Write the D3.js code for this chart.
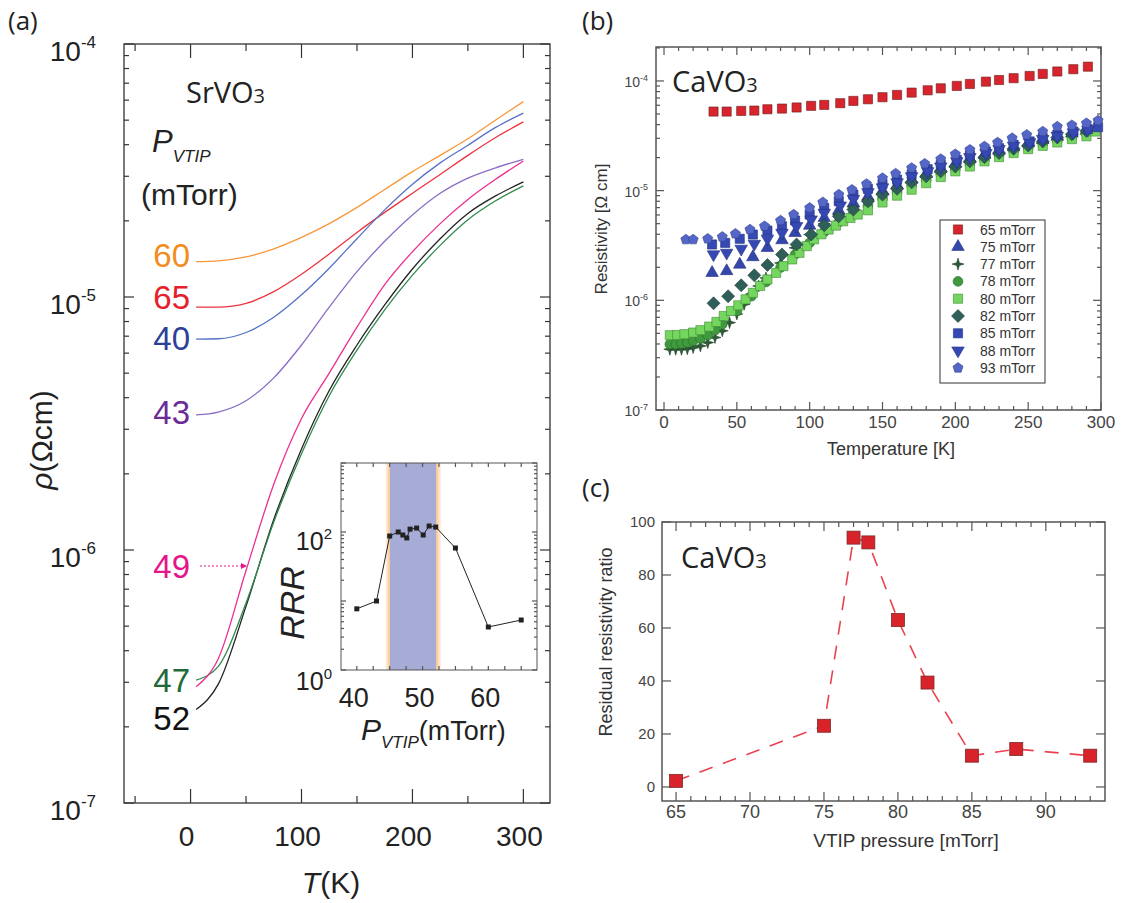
<!DOCTYPE html>
<html>
<head>
<meta charset="utf-8">
<script src="https://cdn.jsdelivr.net/npm/d3@7"></script>
<style>
  body { margin: 0; background: #fff; }
  svg { display: block; }
  text { font-family: "Liberation Sans", Arial, sans-serif; }
  .open { font-family: "Open Sans", "Liberation Sans", sans-serif; }
</style>
</head>
<body>
<script>
// ---------- (a) SrVO3 rho(T) for each VTIP pressure ----------
var srTemps = [5, 25, 50, 75, 100, 125, 150, 175, 200, 225, 250, 275, 300];
var srR60 = [1.38e-5, 1.39e-5, 1.44e-5, 1.55e-5, 1.72e-5, 1.95e-5, 2.26e-5, 2.66e-5, 3.13e-5, 3.63e-5, 4.22e-5, 5.01e-5, 5.92e-5];
var srR65 = [9.12e-6, 9.12e-6, 9.44e-6, 1.05e-5, 1.23e-5, 1.48e-5, 1.8e-5, 2.16e-5, 2.57e-5, 3.05e-5, 3.63e-5, 4.27e-5, 4.92e-5];
var srR40 = [6.82e-6, 6.84e-6, 7.24e-6, 8.32e-6, 1.02e-5, 1.3e-5, 1.7e-5, 2.21e-5, 2.79e-5, 3.39e-5, 3.98e-5, 4.68e-5, 5.33e-5];
var srR43 = [3.42e-6, 3.51e-6, 3.89e-6, 4.79e-6, 6.46e-6, 9.12e-6, 1.26e-5, 1.66e-5, 2.11e-5, 2.57e-5, 2.95e-5, 3.24e-5, 3.5e-5];
var srR49 = [2.88e-7, 3.72e-7, 8.3e-7, 1.82e-6, 3.31e-6, 5.0e-6, 7.6e-6, 1.12e-5, 1.51e-5, 1.95e-5, 2.43e-5, 2.92e-5, 3.45e-5];
var srR47 = [3.06e-7, 3.47e-7, 6.17e-7, 1.29e-6, 2.4e-6, 4.07e-6, 6.17e-6, 8.9e-6, 1.22e-5, 1.6e-5, 2.02e-5, 2.4e-5, 2.75e-5];
var srR52 = [2.34e-7, 2.95e-7, 6.0e-7, 1.32e-6, 2.51e-6, 4.27e-6, 6.46e-6, 9.3e-6, 1.29e-5, 1.7e-5, 2.14e-5, 2.51e-5, 2.85e-5];

// inset: residual resistivity ratio vs P_VTIP
var insetP = [40, 43, 45, 46.3, 47, 47.6, 48.1, 49.1, 50.1, 51, 52, 55, 60, 65];
var insetRRR = [7.7, 10, 87.5, 100, 90.5, 82, 110, 114, 90.5, 122, 118, 58.6, 4.2, 5.3];

// ---------- (b) CaVO3 resistivity vs temperature ----------
var tB65 = [34, 43, 53, 62, 71, 81, 91, 101, 110, 121, 130, 140, 150, 160, 170, 181, 190, 201, 210, 221, 230, 240, 251, 260, 270, 281, 291];
var rB65 = [5.26e-5, 5.26e-5, 5.33e-5, 5.37e-5, 5.52e-5, 5.6e-5, 5.73e-5, 5.93e-5, 6.05e-5, 6.27e-5, 6.58e-5, 6.81e-5, 7.11e-5, 7.46e-5, 7.83e-5, 8.22e-5, 8.57e-5, 9.01e-5, 9.39e-5, 9.86e-5, 1.02e-4, 1.06e-4, 1.11e-4, 1.16e-4, 1.22e-4, 1.28e-4, 1.35e-4];
var tB75 = [33, 43, 52, 61, 71, 81, 90, 100, 110, 120, 130, 140, 150, 160, 170, 180, 190, 200, 210, 220, 230, 240, 250, 260, 270, 280, 290];
var rB75 = [1.78e-6, 1.85e-6, 2.12e-6, 2.48e-6, 3.01e-6, 3.54e-6, 4.12e-6, 4.8e-6, 5.64e-6, 6.6e-6, 7.7e-6, 8.8e-6, 1.0e-5, 1.12e-5, 1.26e-5, 1.42e-5, 1.58e-5, 1.76e-5, 1.94e-5, 2.12e-5, 2.32e-5, 2.49e-5, 2.7e-5, 2.9e-5, 3.11e-5, 3.33e-5, 3.52e-5];
var tB77 = [4, 8, 12, 16, 20, 25, 30, 35, 40, 45, 50, 55, 60, 65, 70, 80, 90, 100, 110, 120, 130, 140, 150, 160, 170, 180, 190, 200, 210, 220, 230, 240, 250, 260, 270, 280, 290];
var rB77 = [3.58e-7, 3.58e-7, 3.58e-7, 3.62e-7, 3.71e-7, 3.84e-7, 4.12e-7, 4.58e-7, 5.27e-7, 6.26e-7, 7.5e-7, 9.2e-7, 1.14e-6, 1.35e-6, 1.6e-6, 2.19e-6, 3.01e-6, 3.98e-6, 5.0e-6, 6.05e-6, 7.1e-6, 8.3e-6, 9.4e-6, 1.06e-5, 1.19e-5, 1.33e-5, 1.5e-5, 1.65e-5, 1.81e-5, 2.0e-5, 2.18e-5, 2.36e-5, 2.53e-5, 2.72e-5, 2.92e-5, 3.13e-5, 3.35e-5];
var tB78 = [4, 8, 12, 16, 20, 25, 30, 35, 40, 50, 60, 70, 80, 90, 100, 110, 120, 130, 140, 150, 160, 170, 180, 190, 200, 210, 220, 230, 240, 250, 260, 270, 280, 290];
var rB78 = [3.98e-7, 3.98e-7, 4.04e-7, 4.12e-7, 4.27e-7, 4.49e-7, 4.81e-7, 5.34e-7, 6.05e-7, 8.0e-7, 1.09e-6, 1.47e-6, 1.99e-6, 2.62e-6, 3.34e-6, 4.2e-6, 5.15e-6, 6.2e-6, 7.3e-6, 8.45e-6, 9.7e-6, 1.11e-5, 1.26e-5, 1.42e-5, 1.57e-5, 1.74e-5, 1.91e-5, 2.1e-5, 2.28e-5, 2.46e-5, 2.66e-5, 2.85e-5, 3.05e-5, 3.27e-5];
var tB80 = [4, 9, 14, 20, 25, 31, 36, 41, 46, 51, 56, 61, 66, 71, 77, 82, 88, 93, 98, 103, 108, 113, 118, 123, 128, 133, 140, 150, 160, 170, 180, 190, 200, 210, 220, 230, 240, 250, 260, 270, 280, 290, 296];
var rB80 = [4.81e-7, 4.83e-7, 4.91e-7, 5.08e-7, 5.34e-7, 5.76e-7, 6.35e-7, 7.2e-7, 8.0e-7, 9.0e-7, 1.02e-6, 1.17e-6, 1.35e-6, 1.55e-6, 1.78e-6, 2.05e-6, 2.36e-6, 2.71e-6, 3.12e-6, 3.6e-6, 4.0e-6, 4.42e-6, 4.8e-6, 5.26e-6, 5.64e-6, 6.05e-6, 6.62e-6, 7.8e-6, 9.0e-6, 1.02e-5, 1.17e-5, 1.33e-5, 1.5e-5, 1.66e-5, 1.85e-5, 2.02e-5, 2.2e-5, 2.39e-5, 2.56e-5, 2.75e-5, 2.95e-5, 3.13e-5, 3.46e-5];
var tB82 = [34, 44, 53, 62, 71, 81, 91, 101, 110, 120, 130, 140, 150, 160, 170, 180, 190, 200, 210, 220, 230, 240, 250, 260, 270, 280, 290];
var rB82 = [9.4e-7, 1.09e-6, 1.37e-6, 1.69e-6, 2.1e-6, 2.62e-6, 3.23e-6, 3.98e-6, 4.84e-6, 5.84e-6, 6.72e-6, 8.0e-6, 9.2e-6, 1.04e-5, 1.19e-5, 1.35e-5, 1.5e-5, 1.66e-5, 1.85e-5, 2.02e-5, 2.2e-5, 2.41e-5, 2.58e-5, 2.81e-5, 3.05e-5, 3.27e-5, 3.51e-5];
var tB85 = [33, 42, 52, 61, 71, 81, 90, 100, 110, 120, 130, 140, 150, 160, 170, 181, 190, 201, 210, 221, 230, 240, 251, 260, 270, 281, 291, 298];
var rB85 = [3.23e-6, 3.34e-6, 3.64e-6, 3.98e-6, 4.33e-6, 4.74e-6, 5.34e-6, 6.05e-6, 6.96e-6, 8.0e-6, 9.2e-6, 1.04e-5, 1.15e-5, 1.26e-5, 1.4e-5, 1.57e-5, 1.72e-5, 1.91e-5, 2.1e-5, 2.28e-5, 2.44e-5, 2.62e-5, 2.81e-5, 3.01e-5, 3.23e-5, 3.46e-5, 3.64e-5, 3.79e-5];
var tB88 = [34, 43, 53, 62, 71, 81, 91, 101, 110, 121, 130, 140, 150, 160, 170, 181, 190, 201, 210, 221, 230, 240, 251, 260, 270, 281, 291];
var rB88 = [2.62e-6, 2.71e-6, 2.95e-6, 3.27e-6, 3.64e-6, 4.12e-6, 4.74e-6, 5.45e-6, 6.27e-6, 7.31e-6, 8.4e-6, 9.66e-6, 1.07e-5, 1.19e-5, 1.35e-5, 1.5e-5, 1.66e-5, 1.85e-5, 2.02e-5, 2.2e-5, 2.39e-5, 2.56e-5, 2.75e-5, 2.95e-5, 3.16e-5, 3.39e-5, 3.59e-5];
var tB93 = [15, 20, 30, 40, 49, 59, 69, 80, 89, 100, 109, 120, 129, 139, 150, 159, 170, 179, 190, 200, 210, 220, 229, 239, 249, 260, 270, 280, 290, 298];
var rB93 = [3.58e-6, 3.58e-6, 3.64e-6, 3.79e-6, 4.04e-6, 4.42e-6, 4.74e-6, 5.34e-6, 6.05e-6, 6.96e-6, 7.83e-6, 9.2e-6, 1.02e-5, 1.15e-5, 1.3e-5, 1.43e-5, 1.61e-5, 1.76e-5, 1.94e-5, 2.15e-5, 2.36e-5, 2.53e-5, 2.75e-5, 3.01e-5, 3.23e-5, 3.46e-5, 3.84e-5, 3.95e-5, 4.12e-5, 4.36e-5];

// ---------- (c) residual resistivity ratio of CaVO3 ----------
var cPressure = [65, 75, 77, 78, 80, 82, 85, 88, 93];
var cRRR = [2.3, 23.1, 94.1, 92.3, 63, 39.4, 11.8, 14.3, 11.8];

var svg = d3.select("body").append("svg").attr("width", 1124).attr("height", 903);
svg.append("rect").attr("width", 1124).attr("height", 903).attr("fill", "#fff");

//draws inward tick marks along one side of a frame
function drawTicks(g, vals, scale, side, pos, len, color) {
  g.selectAll(null).data(vals).enter().append("line")
    .attr("x1", function(v) { return side == "left" || side == "right" ? pos : scale(v); })
    .attr("x2", function(v) { return side == "left" ? pos + len : side == "right" ? pos - len : scale(v); })
    .attr("y1", function(v) { return side == "bottom" || side == "top" ? pos : scale(v); })
    .attr("y2", function(v) { return side == "bottom" ? pos - len : side == "top" ? pos + len : scale(v); })
    .attr("stroke", color).attr("stroke-width", 1.2);
}

//splits a log scale's ticks into decades and the 2..9 in between
function logTicks(scale) {
  var all = scale.ticks();
  var major = all.filter(function(v) { return Math.abs(Math.log10(v) - Math.round(Math.log10(v))) < 1e-6; });
  var minor = all.filter(function(v) { return major.indexOf(v) < 0; });
  return { major: major, minor: minor };
}

//"10" with superscript exponent
function powLabel(g, x, y, exp, size, supSize, color) {
  var t = g.append("text").attr("x", x).attr("y", y).attr("text-anchor", "end")
    .attr("font-size", size).attr("fill", color);
  t.append("tspan").text("10");
  t.append("tspan").attr("dy", -size * 0.45).attr("font-size", supSize).text(exp);
}

// ================= panel (a) =================
var gA = svg.append("g");
var xA = d3.scaleLinear().domain([-60, 324]).range([124, 550]);
var yA = d3.scaleLog().domain([1e-7, 1e-4]).range([803, 44]);

var ltA = logTicks(yA);
drawTicks(gA, ltA.major, yA, "left", 124, 10, "#333");
drawTicks(gA, ltA.minor, yA, "left", 124, 5, "#333");
drawTicks(gA, ltA.major, yA, "right", 550, 10, "#333");
drawTicks(gA, ltA.minor, yA, "right", 550, 5, "#333");
var xMajA = [0, 100, 200, 300], xMinA = [-50, 50, 150, 250];
drawTicks(gA, xMajA, xA, "bottom", 803, 14, "#333");
drawTicks(gA, xMinA, xA, "bottom", 803, 7, "#333");
drawTicks(gA, xMajA, xA, "top", 44, 14, "#333");
drawTicks(gA, xMinA, xA, "top", 44, 7, "#333");
gA.append("rect").attr("x", 124).attr("y", 44).attr("width", 426).attr("height", 759)
  .attr("fill", "none").attr("stroke", "#333").attr("stroke-width", 1.3);

ltA.major.forEach(function(v) {
  powLabel(gA, 96, yA(v) + 17, String(Math.round(Math.log10(v))), 28, 17, "#222");
});
xMajA.forEach(function(v) {
  gA.append("text").attr("x", xA(v) - 4).attr("y", 846).attr("text-anchor", "middle")
    .attr("font-size", 28).attr("fill", "#222").text(v);
});
var tl = gA.append("text").attr("x", 331).attr("y", 893).attr("text-anchor", "middle")
  .attr("font-size", 30).attr("fill", "#222");
tl.append("tspan").attr("font-style", "italic").text("T");
tl.append("tspan").text("(K)");
var yl = gA.append("text").attr("transform", "translate(52,440) rotate(-90)")
  .attr("text-anchor", "middle").attr("font-size", 30).attr("fill", "#222");
yl.append("tspan").attr("font-style", "italic").text("ρ");
yl.append("tspan").text("(Ωcm)");

var curvesA = [
  { p: 60, r: srR60, line: "#f7983a", lab: "#f28c1e", ly: 267 },
  { p: 65, r: srR65, line: "#ec3440", lab: "#e5202b", ly: 309 },
  { p: 40, r: srR40, line: "#5572c8", lab: "#2d3f98", ly: 350 },
  { p: 43, r: srR43, line: "#8a6cc8", lab: "#6b2c98", ly: 424 },
  { p: 52, r: srR52, line: "#222", lab: "#111", ly: 730 },
  { p: 47, r: srR47, line: "#2f8a4c", lab: "#1e6a38", ly: 692 },
  { p: 49, r: srR49, line: "#ec2f92", lab: "#e5168a", ly: 578 }
];
var lineA = d3.line().curve(d3.curveMonotoneX)
  .x(function(d) { return xA(d[0]); }).y(function(d) { return yA(d[1]); });
curvesA.forEach(function(c) {
  gA.append("path").attr("d", lineA(d3.zip(srTemps, c.r)))
    .attr("fill", "none").attr("stroke", c.line).attr("stroke-width", 1.3);
  gA.append("text").attr("x", 190).attr("y", c.ly).attr("text-anchor", "end")
    .attr("font-size", 33).attr("fill", c.lab).text(c.p);
});
// dotted pointer for the 49 label
gA.append("line").attr("x1", 200).attr("x2", 242).attr("y1", 566).attr("y2", 566)
  .attr("stroke", "#e5168a").attr("stroke-width", 1.2).attr("stroke-dasharray", "2,2");
gA.append("path").attr("d", "M241,563L247,566L241,569Z").attr("fill", "#e5168a");

var sr = gA.append("text").attr("class", "open").attr("x", 186).attr("y", 103)
  .attr("font-size", 29).attr("fill", "#222");
sr.append("tspan").text("SrVO");
sr.append("tspan").attr("font-size", 20).text("3");
var pv = gA.append("text").attr("x", 152).attr("y", 152).attr("font-size", 31).attr("fill", "#222");
pv.append("tspan").attr("font-style", "italic").text("P");
pv.append("tspan").attr("font-style", "italic").attr("font-size", 17).attr("dy", 10).text("VTIP");
gA.append("text").attr("x", 141).attr("y", 205).attr("font-size", 30).attr("fill", "#222").text("(mTorr)");
gA.append("text").attr("class", "open").attr("x", 8).attr("y", 30).attr("font-size", 26)
  .attr("fill", "#222").text("(a)");

// ---- inset ----
var defs = svg.append("defs");
var gl = defs.append("linearGradient").attr("id", "fadeL");
gl.append("stop").attr("offset", "0%").attr("stop-color", "#f9c48e").attr("stop-opacity", 0.2);
gl.append("stop").attr("offset", "100%").attr("stop-color", "#f9c48e").attr("stop-opacity", 1);
var gr = defs.append("linearGradient").attr("id", "fadeR");
gr.append("stop").attr("offset", "0%").attr("stop-color", "#f9c48e").attr("stop-opacity", 1);
gr.append("stop").attr("offset", "100%").attr("stop-color", "#f9c48e").attr("stop-opacity", 0.2);

var gI = svg.append("g");
var xI = d3.scaleLinear().domain([37.6, 67.4]).range([341, 537]);
var yI = d3.scaleLog().domain([1, 1000]).range([670, 463]);
gI.append("rect").attr("x", 341).attr("y", 463).attr("width", 196).attr("height", 207).attr("fill", "#fff");
gI.append("rect").attr("x", xI(44.4)).attr("y", 463).attr("width", xI(45.05) - xI(44.4)).attr("height", 207)
  .attr("fill", "url(#fadeL)");
gI.append("rect").attr("x", xI(52.05)).attr("y", 463).attr("width", xI(52.8) - xI(52.05)).attr("height", 207)
  .attr("fill", "url(#fadeR)");
gI.append("rect").attr("x", xI(45.05)).attr("y", 463).attr("width", xI(52.05) - xI(45.05)).attr("height", 207)
  .attr("fill", "#a6acd6");
var ltI = logTicks(yI);
drawTicks(gI, ltI.major, yI, "left", 341, 5, "#555");
drawTicks(gI, ltI.minor, yI, "left", 341, 3, "#555");
drawTicks(gI, ltI.major, yI, "right", 537, 5, "#555");
drawTicks(gI, ltI.minor, yI, "right", 537, 3, "#555");
var xTI = d3.range(40, 66, 2.5);
drawTicks(gI, xTI, xI, "bottom", 670, 4, "#555");
drawTicks(gI, xTI, xI, "top", 463, 4, "#555");
gI.append("rect").attr("x", 341).attr("y", 463).attr("width", 196).attr("height", 207)
  .attr("fill", "none").attr("stroke", "#555").attr("stroke-width", 1);
var lineI = d3.line().x(function(d) { return xI(d[0]); }).y(function(d) { return yI(d[1]); });
var insetPts = d3.zip(insetP, insetRRR);
gI.append("path").attr("d", lineI(insetPts)).attr("fill", "none").attr("stroke", "#222").attr("stroke-width", 1);
gI.selectAll(null).data(insetPts).enter().append("rect")
  .attr("x", function(d) { return xI(d[0]) - 2.5; }).attr("y", function(d) { return yI(d[1]) - 2.5; })
  .attr("width", 5).attr("height", 5).attr("fill", "#222");
powLabel(gI, 332, yI(100) + 18, "2", 25, 15, "#222");
powLabel(gI, 332, yI(1) + 20, "0", 25, 15, "#222");
[40, 50, 60].forEach(function(v) {
  gI.append("text").attr("x", xI(v) - 3).attr("y", 707).attr("text-anchor", "middle")
    .attr("font-size", 27).attr("fill", "#222").text(v);
});
gI.append("text").attr("transform", "translate(304,603) rotate(-90)").attr("text-anchor", "middle")
  .attr("font-size", 34).attr("font-style", "italic").attr("fill", "#222").text("RRR");
var ipl = gI.append("text").attr("x", 361).attr("y", 740).attr("font-size", 30).attr("fill", "#222");
ipl.append("tspan").attr("font-style", "italic").text("P");
ipl.append("tspan").attr("font-style", "italic").attr("font-size", 17).attr("dy", 8).text("VTIP");
ipl.append("tspan").attr("font-size", 27).attr("dy", -8).text("(mTorr)");

// ================= panel (b) =================
var gB = svg.append("g");
var xB = d3.scaleLinear().domain([-5.5, 300]).range([656, 1101]);
var yB = d3.scaleLog().domain([1e-7, 2.04e-4]).range([410, 47]);
var ltB = logTicks(yB);
drawTicks(gB, ltB.major, yB, "left", 656, 8, "#555");
drawTicks(gB, ltB.minor, yB, "left", 656, 4, "#555");
drawTicks(gB, ltB.major, yB, "right", 1101, 8, "#555");
drawTicks(gB, ltB.minor, yB, "right", 1101, 4, "#555");
var xMajB = d3.range(0, 301, 50), xMinB = d3.range(10, 300, 10).filter(function(v) { return v % 50; });
drawTicks(gB, xMajB, xB, "bottom", 410, 8, "#555");
drawTicks(gB, xMinB, xB, "bottom", 410, 4, "#555");
drawTicks(gB, xMajB, xB, "top", 47, 8, "#555");
drawTicks(gB, xMinB, xB, "top", 47, 4, "#555");
gB.append("rect").attr("x", 656).attr("y", 47).attr("width", 445).attr("height", 363)
  .attr("fill", "none").attr("stroke", "#555").attr("stroke-width", 1.5);
ltB.major.forEach(function(v) {
  powLabel(gB, 648, yB(v) + 6, String(Math.round(Math.log10(v))), 14, 9, "#444");
});
xMajB.forEach(function(v) {
  gB.append("text").attr("x", xB(v)).attr("y", 428).attr("text-anchor", "middle")
    .attr("font-size", 17).attr("fill", "#444").text(v);
});
gB.append("text").attr("x", 891).attr("y", 455).attr("text-anchor", "middle")
  .attr("font-size", 18).attr("fill", "#333").text("Temperature [K]");
gB.append("text").attr("transform", "translate(607,229) rotate(-90)").attr("text-anchor", "middle")
  .attr("font-size", 17).attr("fill", "#333").text("Resistivity [Ω cm]");
var cb = gB.append("text").attr("class", "open").attr("x", 672).attr("y", 92)
  .attr("font-size", 29).attr("fill", "#222");
cb.append("tspan").text("CaVO");
cb.append("tspan").attr("font-size", 20).text("3");
gB.append("text").attr("class", "open").attr("x", 582).attr("y", 30).attr("font-size", 26)
  .attr("fill", "#222").text("(b)");

//marker shapes used in (b)
function polygonPath(n, r, rot) {
  var pts = d3.range(n).map(function(i) {
    var a = rot + i * 2 * Math.PI / n;
    return [r * Math.sin(a), -r * Math.cos(a)];
  });
  return "M" + pts.join("L") + "Z";
}
function starPath(r) {
  var pts = d3.range(8).map(function(i) {
    var a = i * Math.PI / 4, rr = i % 2 ? r * 0.32 : r;
    return [rr * Math.sin(a), -rr * Math.cos(a)];
  });
  return "M" + pts.join("L") + "Z";
}
var shapes = {
  square: d3.symbol().type(d3.symbolSquare).size(84)(),
  triUp: d3.symbol().type(d3.symbolTriangle).size(68)(),
  triDown: d3.symbol().type(d3.symbolTriangle).size(68)(),
  star: starPath(6),
  circle: d3.symbol().type(d3.symbolCircle).size(75)(),
  diamond: polygonPath(4, 6.5, 0),
  pentagon: polygonPath(5, 5.3, 0)
};

var seriesB = [
  { label: "65 mTorr", t: tB65, r: rB65, shape: "square", fill: "#d8252d", stroke: "#6a1c1c" },
  { label: "75 mTorr", t: tB75, r: rB75, shape: "triUp", fill: "#3447aa", stroke: "#27337a" },
  { label: "77 mTorr", t: tB77, r: rB77, shape: "star", fill: "#2d5b36", stroke: "#1f3f25" },
  { label: "78 mTorr", t: tB78, r: rB78, shape: "circle", fill: "#3e9a3c", stroke: "#286a28" },
  { label: "80 mTorr", t: tB80, r: rB80, shape: "square", fill: "#74d65e", stroke: "#3f8a35" },
  { label: "82 mTorr", t: tB82, r: rB82, shape: "diamond", fill: "#2f5f58", stroke: "#1d3d39" },
  { label: "85 mTorr", t: tB85, r: rB85, shape: "square", fill: "#3548b4", stroke: "#24327e" },
  { label: "88 mTorr", t: tB88, r: rB88, shape: "triDown", fill: "#3548b4", stroke: "#24327e" },
  { label: "93 mTorr", t: tB93, r: rB93, shape: "pentagon", fill: "#5467c8", stroke: "#34418a" }
];
function markerTransform(shape, x, y) {
  return "translate(" + x + "," + y + ")" + (shape == "triDown" ? " rotate(180)" : "");
}
seriesB.forEach(function(s) {
  gB.selectAll(null).data(d3.zip(s.t, s.r)).enter().append("path")
    .attr("d", shapes[s.shape])
    .attr("transform", function(d) { return markerTransform(s.shape, xB(d[0]), yB(d[1])); })
    .attr("fill", s.fill).attr("stroke", s.stroke).attr("stroke-width", 0.6);
});

// legend
var lg = gB.append("g");
lg.append("rect").attr("x", 940).attr("y", 220).attr("width", 105).attr("height", 163)
  .attr("fill", "#fff").attr("stroke", "#333").attr("stroke-width", 1);
seriesB.forEach(function(s, i) {
  var y = 229.5 + i * 17.3;
  lg.append("path").attr("d", shapes[s.shape]).attr("transform", markerTransform(s.shape, 958, y))
    .attr("fill", s.fill).attr("stroke", s.stroke).attr("stroke-width", 0.6);
  lg.append("text").attr("x", 980).attr("y", y + 5).attr("font-size", 14).attr("fill", "#333").text(s.label);
});

// ================= panel (c) =================
var gC = svg.append("g");
var xC = d3.scaleLinear().domain([64.05, 94]).range([662, 1105]);
var yC = d3.scaleLinear().domain([-5.3, 100]).range([801, 522]);
var xMajC = [65, 70, 75, 80, 85, 90];
var xMinC = d3.range(65, 94, 1).filter(function(v) { return v % 5; });
var yMajC = [0, 20, 40, 60, 80, 100];
drawTicks(gC, xMajC, xC, "bottom", 801, 9, "#555");
drawTicks(gC, xMinC, xC, "bottom", 801, 5, "#555");
drawTicks(gC, xMajC, xC, "top", 522, 9, "#555");
drawTicks(gC, xMinC, xC, "top", 522, 5, "#555");
drawTicks(gC, yMajC, yC, "left", 662, 9, "#555");
drawTicks(gC, yMajC, yC, "right", 1105, 9, "#555");
gC.append("rect").attr("x", 662).attr("y", 522).attr("width", 443).attr("height", 279)
  .attr("fill", "none").attr("stroke", "#555").attr("stroke-width", 1.5);
yMajC.forEach(function(v) {
  gC.append("text").attr("x", 655).attr("y", yC(v) + 5).attr("text-anchor", "end")
    .attr("font-size", 15).attr("fill", "#444").text(v);
});
xMajC.forEach(function(v) {
  gC.append("text").attr("x", xC(v)).attr("y", 818).attr("text-anchor", "middle")
    .attr("font-size", 18).attr("fill", "#444").text(v);
});
gC.append("text").attr("x", 906).attr("y", 847).attr("text-anchor", "middle")
  .attr("font-size", 19).attr("fill", "#333").text("VTIP pressure [mTorr]");
gC.append("text").attr("transform", "translate(612,642) rotate(-90)").attr("text-anchor", "middle")
  .attr("font-size", 18).attr("fill", "#333").text("Residual resistivity ratio");
var cc = gC.append("text").attr("class", "open").attr("x", 681).attr("y", 568)
  .attr("font-size", 29).attr("fill", "#222");
cc.append("tspan").text("CaVO");
cc.append("tspan").attr("font-size", 20).text("3");
gC.append("text").attr("class", "open").attr("x", 582).attr("y", 497).attr("font-size", 26)
  .attr("fill", "#222").text("(c)");

var cPts = d3.zip(cPressure, cRRR);
var lineC = d3.line().x(function(d) { return xC(d[0]); }).y(function(d) { return yC(d[1]); });
gC.append("path").attr("d", lineC(cPts)).attr("fill", "none").attr("stroke", "#ea4250")
  .attr("stroke-width", 1.6).attr("stroke-dasharray", "14,11");
gC.selectAll(null).data(cPts).enter().append("rect")
  .attr("x", function(d) { return xC(d[0]) - 6.5; }).attr("y", function(d) { return yC(d[1]) - 6.5; })
  .attr("width", 13).attr("height", 13).attr("fill", "#d8232a").attr("stroke", "#7a2a2a").attr("stroke-width", 0.8);
</script>
</body>
</html>
